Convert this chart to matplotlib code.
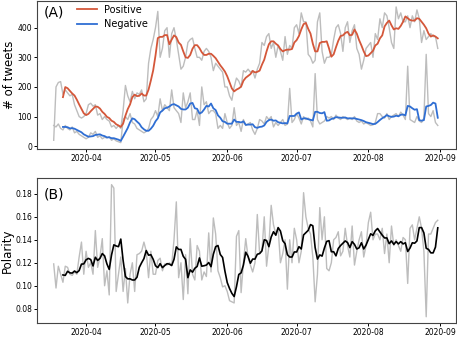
import pandas as pd
import matplotlib
matplotlib.use("Agg")
import matplotlib.pyplot as plt
import matplotlib.dates as mdates

# daily values, 2020-03-18 .. 2020-08-31
start_date = "2020-03-18"
end_date = "2020-08-31"

positive = [
    # March 18-31
    20, 200, 215, 218, 175, 190, 180, 170, 175, 140, 120, 100, 95, 100,
    # April
    110, 140, 145, 135, 140, 105, 110, 90, 100, 90, 85, 65, 70, 60, 70,
    60, 120, 205, 170, 150, 185, 160, 180, 175, 190, 150, 160, 280, 330, 360,
    # May
    400, 455, 300, 330, 390, 400, 300, 380, 400, 360, 310, 260, 270, 300, 350,
    360, 365, 330, 300, 300, 290, 320, 330, 320, 300, 255, 280, 270, 260, 250, 200,
    # June
    200, 170, 155, 200, 230, 220, 200, 255, 250, 260, 250, 255, 230, 260, 280,
    350, 340, 370, 380, 330, 350, 300, 340, 320, 290, 370, 310, 340, 330, 400,
    # July
    410, 380, 450, 420, 420, 310, 300, 280, 290, 420, 450, 320, 280, 300, 300,
    310, 360, 400, 410, 380, 320, 400, 420, 350, 390, 410, 330, 310, 260, 290, 330,
    # August
    340, 350, 300, 380, 360, 430, 400, 450, 440, 400, 350, 330, 470, 430, 450,
    420, 420, 440, 400, 440, 420, 460, 430, 350, 390, 360, 370, 380, 370, 370, 330,
]

negative = [
    70, 65, 75, 60, 55, 70, 60, 55, 65, 45, 50, 40, 35, 30,
    25, 30, 45, 40, 50, 30, 35, 25, 30, 28, 32, 20, 25, 18, 15,
    12, 90, 100, 90, 110, 80, 75, 60, 55, 50, 45, 50, 60, 90, 100,
    120, 100, 160, 120, 140, 130, 120, 190, 130, 120, 110, 80, 180, 130, 150,
    180, 90, 90, 120, 70, 200, 140, 150, 110, 120, 120, 110, 60, 70, 60, 110,
    80, 60, 70, 130, 70, 80, 50, 90, 70, 75, 80, 55, 40, 60, 90,
    85, 75, 100, 90, 100, 65, 80, 70, 80, 90, 70, 75, 195, 80, 90,
    110, 95, 75, 100, 90, 95, 85, 65, 245, 90, 75, 80, 85, 100, 95,
    100, 90, 105, 95, 90, 100, 95, 90, 95, 90, 100, 85, 80, 85, 75, 80,
    75, 70, 72, 80, 110, 110, 100, 95, 110, 90, 100, 105, 110, 100, 115,
    105, 90, 270, 90, 85, 80, 100, 85, 80, 95, 310, 110, 100, 120, 80, 70,
]

polarity = [
    .119, .098, .117, .110, .103, .117, .116, .110, .109, .112, .110, .125, .138, .110,
    .130, .116, .120, .110, .148, .116, .125, .141, .100, .113, .092, .188, .185, .095, .110,
    .125, .095, .115, .085, .110, .120, .095, .127, .128, .130, .138, .130, .107, .130, .110,
    .110, .122, .124, .113, .119, .118, .120, .118, .140, .173, .107, .120, .088, .127, .093,
    .141, .110, .105, .135, .130, .105, .112, .108, .146, .112, .159, .145, .113, .107, .099, .100,
    .095, .087, .086, .085, .143, .148, .094, .120, .141, .125, .118, .112, .120, .162, .128,
    .130, .160, .117, .135, .170, .153, .145, .150, .120, .128, .140, .097, .140, .120, .150,
    .140, .120, .130, .181, .160, .150, .145, .125, .086, .110, .168, .140, .160, .115, .113,
    .120, .140, .142, .147, .126, .130, .150, .135, .125, .152, .118, .130, .140, .147, .125, .135,
    .155, .164, .140, .145, .145, .140, .150, .128, .145, .120, .152, .135, .140, .135, .130,
    .142, .140, .102, .150, .153, .140, .150, .160, .150, .130, .073, .145, .145, .150, .155, .157,
]

window = 5


def plot_tweets():
    dates = pd.date_range(start_date, end_date, freq="D")
    df = pd.DataFrame(
        {"pos": positive, "neg": negative, "pol": polarity}, index=dates
    )
    smooth = df.rolling(window).mean()

    fig = plt.figure(figsize=(4.57, 3.39), dpi=100)
    ax1 = fig.add_axes([0.081, 0.560, 0.917, 0.437])
    ax2 = fig.add_axes([0.081, 0.047, 0.917, 0.428])

    grey = "#bdbdbd"

    # (A) tweet counts
    ax1.plot(df.index, df["pos"], color=grey, lw=1.0)
    ax1.plot(df.index, df["neg"], color=grey, lw=1.0)
    ax1.plot(smooth.index, smooth["pos"], color="#d4573a", lw=1.3, label="Positive")
    ax1.plot(smooth.index, smooth["neg"], color="#2f6ed3", lw=1.3, label="Negative")
    ax1.set_ylim(-10, 490)
    ax1.set_yticks([0, 100, 200, 300, 400])
    ax1.set_ylabel("# of tweets", fontsize=8.5, labelpad=1)
    ax1.text(0.015, 0.895, "(A)", transform=ax1.transAxes, fontsize=10)
    ax1.legend(loc="upper left", bbox_to_anchor=(0.075, 1.035), frameon=False,
               fontsize=7, handlelength=2.0, labelspacing=0.45)

    # (B) polarity
    ax2.plot(df.index, df["pol"], color=grey, lw=1.0)
    ax2.plot(smooth.index, smooth["pol"], color="black", lw=1.2)
    ax2.set_ylim(0.0675, 0.1938)
    ax2.set_yticks([0.08, 0.10, 0.12, 0.14, 0.16, 0.18])
    ax2.set_ylabel("Polarity", fontsize=8.5, labelpad=1)
    ax2.text(0.015, 0.86, "(B)", transform=ax2.transAxes, fontsize=10)

    for ax in (ax1, ax2):
        ax.set_xlim(pd.Timestamp("2020-03-10 19:00"), pd.Timestamp("2020-09-07 22:00"))
        ax.xaxis.set_major_locator(mdates.MonthLocator())
        ax.xaxis.set_major_formatter(mdates.DateFormatter("%Y-%m"))
        ax.tick_params(labelsize=5.5, length=2.5, width=0.7, pad=1.2)
        for s in ax.spines.values():
            s.set_color("#444444")
            s.set_linewidth(0.8)

    fig.savefig("out.png", dpi=100)


plot_tweets()
